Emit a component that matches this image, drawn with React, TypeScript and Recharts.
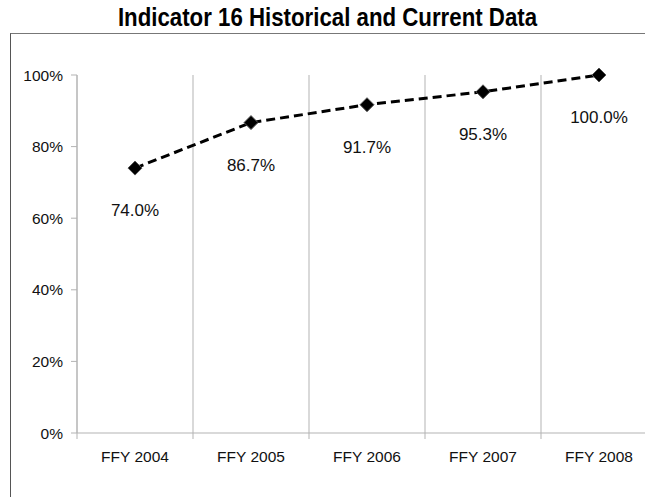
import React from 'react';
import { LineChart, Line, XAxis, YAxis, CartesianGrid, LabelList } from 'recharts';

const categories = ['FFY 2004', 'FFY 2005', 'FFY 2006', 'FFY 2007', 'FFY 2008'];
const values = [74.0, 86.7, 91.7, 95.3, 100.0];
const yTicks = [0, 20, 40, 60, 80, 100];

const data = categories.map((name, i) => ({ name, value: values[i] }));

const CHART_W = 660;
const CHART_H = 497;
const MARGIN = { top: 75, right: 3, left: 17, bottom: 34 };
const Y_AXIS_W = 60;
const BAND = (CHART_W - MARGIN.left - Y_AXIS_W - MARGIN.right) / categories.length;
const FONT = "'Liberation Sans', Arial, sans-serif";

const Diamond = (props: any) => {
  const { cx, cy } = props;
  const r = 7;
  return (
    <path
      d={`M${cx},${cy - r} L${cx + r},${cy} L${cx},${cy + r} L${cx - r},${cy} Z`}
      fill="#000"
      stroke="#555"
      strokeWidth={1}
    />
  );
};

const XTick = (props: any) => {
  const { x, y, payload } = props;
  const left = x - BAND / 2;
  return (
    <g>
      <line x1={left} y1={y} x2={left} y2={y + 6} stroke="#b3b3b3" />
      <text x={x} y={y + 18} dy="0.71em" textAnchor="middle" fontSize={15.5} fill="#111" fontFamily={FONT}>
        {payload.value}
      </text>
    </g>
  );
};

const PointLabel = (props: any) => {
  const { x, y, value } = props;
  return (
    <text x={x} y={y + 42} dy="0.35em" textAnchor="middle" fontSize={17} fill="#111" fontFamily={FONT}>
      {Number(value).toFixed(1)}%
    </text>
  );
};

export default function App() {
  return (
    <div
      style={{
        position: 'absolute',
        left: 0,
        top: 0,
        width: 645,
        height: 497,
        overflow: 'hidden',
        background: '#fff',
        fontFamily: FONT,
      }}
    >
      <div
        style={{
          position: 'absolute',
          left: 0,
          top: 4,
          width: 655,
          textAlign: 'center',
          whiteSpace: 'nowrap',
        }}
      >
        <span
          style={{
            display: 'inline-block',
            fontSize: 25,
            lineHeight: '26px',
            fontWeight: 'bold',
            color: '#000',
            transform: 'scaleX(0.89)',
          }}
        >
          Indicator 16 Historical and Current Data
        </span>
      </div>
      <div
        style={{
          position: 'absolute',
          left: 10,
          top: 33,
          width: 700,
          height: 500,
          borderLeft: '1.5px solid #555',
          borderTop: '1.5px solid #777',
        }}
      />
      <div style={{ position: 'absolute', left: 0, top: 0 }}>
        <LineChart width={CHART_W} height={CHART_H} data={data} margin={MARGIN}>
          <CartesianGrid
            horizontal={false}
            stroke="#b3b3b3"
            verticalCoordinatesGenerator={({ offset }: any) =>
              categories.map((_, i) => offset.left + (offset.width / categories.length) * i)
            }
          />
          <XAxis
            dataKey="name"
            scale="band"
            height={30}
            axisLine={{ stroke: '#b3b3b3' }}
            tickLine={false}
            tickSize={0}
            tickMargin={0}
            tick={<XTick />}
            interval={0}
          />
          <YAxis
            width={Y_AXIS_W}
            domain={[0, 100]}
            ticks={yTicks}
            tickFormatter={(v: number) => `${v}%`}
            axisLine={{ stroke: '#b3b3b3' }}
            tickLine={{ stroke: '#b3b3b3' }}
            tickSize={6}
            tickMargin={8}
            tick={{ fontSize: 15.5, fill: '#111', fontFamily: FONT }}
          />
          <Line
            type="linear"
            dataKey="value"
            stroke="#000"
            strokeWidth={3}
            strokeDasharray="9 5"
            dot={<Diamond />}
            activeDot={false}
            isAnimationActive={false}
          >
            <LabelList dataKey="value" content={<PointLabel />} />
          </Line>
        </LineChart>
      </div>
    </div>
  );
}
